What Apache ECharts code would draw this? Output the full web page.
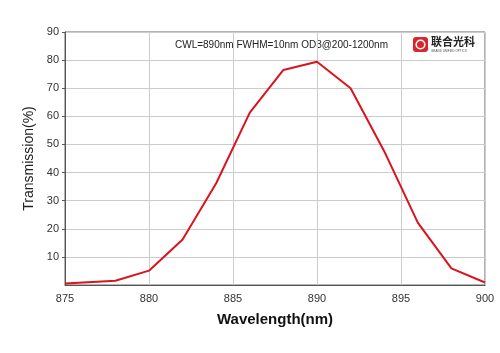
<!DOCTYPE html>
<html><head><meta charset="utf-8">
<script src="https://cdn.jsdelivr.net/npm/echarts@6/dist/echarts.min.js"></script>
<style>html,body{margin:0;padding:0;background:#fff}#c{width:500px;height:353px}</style>
</head><body><div id="c"></div>
<script>
const wavelengths = [875, 878, 880, 882, 884, 886, 888, 890, 892, 894, 896, 898, 900];
const transmission = [0.5, 1.5, 5.1, 16.2, 36.2, 61.3, 76.5, 79.4, 70.0, 47.6, 22.2, 5.9, 0.9];
const xTicks = [875, 880, 885, 890, 895, 900];
const yTicks = [10, 20, 30, 40, 50, 60, 70, 80, 90];
const annotation = 'CWL=890nm FWHM=10nm OD3@200-1200nm';
const brandCN = '联合光科';
const brandEN = 'GRAND UNIFIED OPTICS';

const chart = echarts.init(document.getElementById('c'));
chart.setOption({
  animation: false,
  grid: {left: 65, right: 15, top: 32, bottom: 68, show: true, borderColor: '#666', borderWidth: 1},
  xAxis: {
    type: 'value', min: 875, max: 900, interval: 5,
    name: 'Wavelength(nm)', nameLocation: 'middle', nameGap: 27,
    nameTextStyle: {fontFamily: 'Liberation Sans', fontWeight: 'bold', fontSize: 15, color: '#111'},
    axisLine: {lineStyle: {color: '#555'}},
    axisTick: {show: false},
    axisLabel: {fontFamily: 'Liberation Sans', fontSize: 11, color: '#333', margin: 8},
    splitLine: {show: true, lineStyle: {color: '#ccc', width: 1}}
  },
  yAxis: {
    type: 'value', min: 0, max: 90, interval: 10,
    name: 'Transmission(%)', nameLocation: 'middle', nameGap: 28,
    nameTextStyle: {fontFamily: 'Liberation Sans', fontSize: 14, color: '#222'},
    axisLine: {show: true, lineStyle: {color: '#555'}},
    axisTick: {show: true, length: 3, lineStyle: {color: '#555'}},
    axisLabel: {fontFamily: 'Liberation Sans', fontSize: 11, color: '#333', margin: 6, showMinLabel: false},
    splitLine: {show: true, lineStyle: {color: '#ccc', width: 1}}
  },
  graphic: [
    {type: 'text', left: 175, top: 40, style: {text: annotation, font: '10px "Liberation Sans"', fill: '#222'}},
    {type: 'rect', shape: {x: 413, y: 37, width: 15, height: 15, r: 3}, style: {fill: '#d9262c'}},
    {type: 'circle', shape: {cx: 420.5, cy: 44.5, r: 4.3}, style: {fill: 'none', stroke: '#fff', lineWidth: 1.6}},
    {type: 'text', left: 431, top: 36, style: {text: brandCN, font: 'bold 11px "Noto Sans CJK SC"', fill: '#222'}},
    {type: 'text', left: 431, top: 50, style: {text: brandEN, font: '3px "Liberation Sans"', fill: '#555'}}
  ],
  series: [{
    type: 'line',
    data: wavelengths.map((w, i) => [w, transmission[i]]),
    showSymbol: false,
    lineStyle: {color: '#d9141c', width: 2},
    itemStyle: {color: '#d9141c'}
  }]
});
</script></body></html>
